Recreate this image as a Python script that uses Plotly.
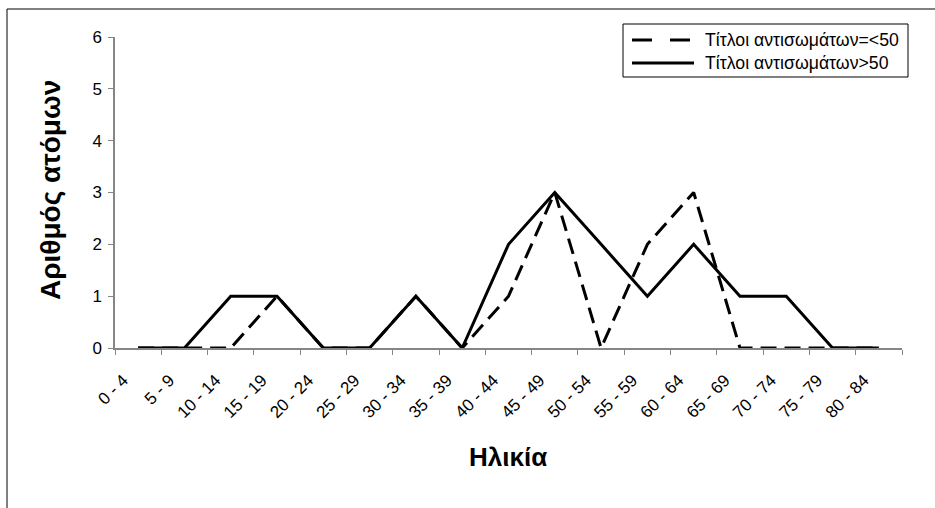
import plotly.graph_objects as go

# Age groups and number of people per antibody-titre group
age_groups = ["0 - 4", "5 - 9", "10 - 14", "15 - 19", "20 - 24", "25 - 29",
              "30 - 34", "35 - 39", "40 - 44", "45 - 49", "50 - 54", "55 - 59",
              "60 - 64", "65 - 69", "70 - 74", "75 - 79", "80 - 84"]
low_titre = [0, 0, 0, 1, 0, 0, 1, 0, 1, 3, 0, 2, 3, 0, 0, 0, 0]
high_titre = [0, 0, 1, 1, 0, 0, 1, 0, 2, 3, 2, 1, 2, 1, 1, 0, 0]
series_names = ["Τίτλοι αντισωμάτων=<50", "Τίτλοι αντισωμάτων>50"]
y_ticks = [0, 1, 2, 3, 4, 5, 6]

W, H = 935, 508
L, R, T, B = 115, 33, 37, 160
PW, PH = W - L - R, H - T - B


def px(x):
    return (x - L) / PW


def py(y):
    return (H - B - y) / PH


FONT = "Liberation Sans, Arial, sans-serif"
AXIS_GREY = "#868686"

fig = go.Figure()
fig.add_trace(go.Scatter(x=age_groups, y=low_titre, mode="lines", name=series_names[0],
                         line=dict(color="black", width=3, dash="16px,8px"),
                         showlegend=False))
fig.add_trace(go.Scatter(x=age_groups, y=high_titre, mode="lines", name=series_names[1],
                         line=dict(color="black", width=3),
                         showlegend=False))

fig.update_layout(
    width=W, height=H,
    margin=dict(l=L, r=R, t=T, b=B, pad=0),
    paper_bgcolor="white", plot_bgcolor="white",
    font=dict(family=FONT, size=17, color="black"),
    xaxis=dict(type="category", range=[-0.5, len(age_groups) - 0.5],
               showline=True, linecolor=AXIS_GREY, linewidth=1.5,
               ticks="outside", ticklen=5, tickcolor=AXIS_GREY, tickwidth=1,
               tickson="boundaries", tickangle=-45, showgrid=False, zeroline=False,
               ticklabelstandoff=14, ticklabelshift=-15,
               tickfont=dict(size=17)),
    yaxis=dict(range=[0, 6], tickvals=y_ticks,
               showline=True, linecolor=AXIS_GREY, linewidth=1.5,
               ticks="outside", ticklen=5, tickcolor=AXIS_GREY, tickwidth=1,
               ticklabelstandoff=3,
               showgrid=False, zeroline=False, tickfont=dict(size=17)),
)

shapes = []
annotations = []

# outer chart frame (left and top edges)
shapes.append(dict(type="line", xref="paper", yref="paper",
                   x0=px(7), x1=px(7), y0=py(9), y1=py(H + 5),
                   line=dict(color="black", width=1)))
shapes.append(dict(type="line", xref="paper", yref="paper",
                   x0=px(7), x1=px(W + 5), y0=py(9), y1=py(9),
                   line=dict(color="black", width=1)))

# legend box
shapes.append(dict(type="rect", xref="paper", yref="paper",
                   x0=px(623), x1=px(908), y0=py(24), y1=py(77),
                   line=dict(color="black", width=1), fillcolor="white"))
legend_rows = [40, 63]
legend_dash = ["20px,18px", "solid"]
for name, row, dash in zip(series_names, legend_rows, legend_dash):
    shapes.append(dict(type="line", xref="paper", yref="paper",
                       x0=px(632), x1=px(694), y0=py(row), y1=py(row),
                       line=dict(color="black", width=3, dash=dash)))
    annotations.append(dict(text=name, xref="paper", yref="paper",
                            x=px(703), y=py(row), xanchor="left", yanchor="middle",
                            showarrow=False, font=dict(size=17.7)))

# axis titles
annotations.append(dict(text="<b>Ηλικία</b>", xref="paper", yref="paper",
                        x=px(508), y=py(457), xanchor="center", yanchor="middle",
                        showarrow=False, font=dict(size=26)))
annotations.append(dict(text="<b>Αριθμός ατόμων</b>", xref="paper", yref="paper",
                        x=px(50), y=py(190), xanchor="center", yanchor="middle",
                        textangle=-90, showarrow=False, font=dict(size=28)))

fig.update_layout(shapes=shapes, annotations=annotations)
fig.write_html("out.html")
